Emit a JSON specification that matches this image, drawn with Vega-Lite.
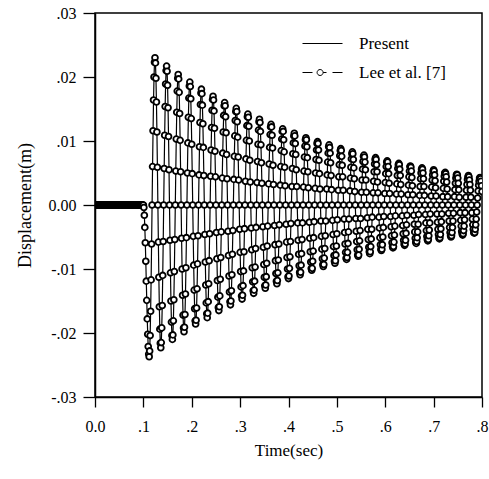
{"$schema":"https://vega.github.io/schema/vega-lite/v6.json","width":387,"height":384,"autosize":{"type":"none"},"padding":{"left":95,"top":13,"right":7,"bottom":82},
"config":{"font":"Liberation Serif","view":{"stroke":"black","strokeWidth":1.5},
"axis":{"grid":false,"labelFlush":false,"domainColor":"black","domainWidth":1.5,"tickColor":"black","tickWidth":1.3,"labelColor":"black","labelFont":"Liberation Serif","labelFontSize":16,"titleFont":"Liberation Serif","titleFontSize":17,"titleFontWeight":"normal","titleColor":"black"}},
"data":{"values":[
{"t":0.000,"y":0},{"t":0.001,"y":0},{"t":0.002,"y":0},{"t":0.003,"y":0},{"t":0.004,"y":0},{"t":0.005,"y":0},{"t":0.006,"y":0},{"t":0.007,"y":0},{"t":0.008,"y":0},{"t":0.009,"y":0},
{"t":0.010,"y":0},{"t":0.011,"y":0},{"t":0.012,"y":0},{"t":0.013,"y":0},{"t":0.014,"y":0},{"t":0.015,"y":0},{"t":0.016,"y":0},{"t":0.017,"y":0},{"t":0.018,"y":0},{"t":0.019,"y":0},
{"t":0.020,"y":0},{"t":0.021,"y":0},{"t":0.022,"y":0},{"t":0.023,"y":0},{"t":0.024,"y":0},{"t":0.025,"y":0},{"t":0.026,"y":0},{"t":0.027,"y":0},{"t":0.028,"y":0},{"t":0.029,"y":0},
{"t":0.030,"y":0},{"t":0.031,"y":0},{"t":0.032,"y":0},{"t":0.033,"y":0},{"t":0.034,"y":0},{"t":0.035,"y":0},{"t":0.036,"y":0},{"t":0.037,"y":0},{"t":0.038,"y":0},{"t":0.039,"y":0},
{"t":0.040,"y":0},{"t":0.041,"y":0},{"t":0.042,"y":0},{"t":0.043,"y":0},{"t":0.044,"y":0},{"t":0.045,"y":0},{"t":0.046,"y":0},{"t":0.047,"y":0},{"t":0.048,"y":0},{"t":0.049,"y":0},
{"t":0.050,"y":0},{"t":0.051,"y":0},{"t":0.052,"y":0},{"t":0.053,"y":0},{"t":0.054,"y":0},{"t":0.055,"y":0},{"t":0.056,"y":0},{"t":0.057,"y":0},{"t":0.058,"y":0},{"t":0.059,"y":0},
{"t":0.060,"y":0},{"t":0.061,"y":0},{"t":0.062,"y":0},{"t":0.063,"y":0},{"t":0.064,"y":0},{"t":0.065,"y":0},{"t":0.066,"y":0},{"t":0.067,"y":0},{"t":0.068,"y":0},{"t":0.069,"y":0},
{"t":0.070,"y":0},{"t":0.071,"y":0},{"t":0.072,"y":0},{"t":0.073,"y":0},{"t":0.074,"y":0},{"t":0.075,"y":0},{"t":0.076,"y":0},{"t":0.077,"y":0},{"t":0.078,"y":0},{"t":0.079,"y":0},
{"t":0.080,"y":0},{"t":0.081,"y":0},{"t":0.082,"y":0},{"t":0.083,"y":0},{"t":0.084,"y":0},{"t":0.085,"y":0},{"t":0.086,"y":0},{"t":0.087,"y":0},{"t":0.088,"y":0},{"t":0.089,"y":0},
{"t":0.090,"y":0},{"t":0.091,"y":0},{"t":0.092,"y":0},{"t":0.093,"y":0},{"t":0.094,"y":0},{"t":0.095,"y":0},{"t":0.096,"y":0},{"t":0.097,"y":0},{"t":0.098,"y":0},{"t":0.099,"y":0},
{"t":0.100,"y":0},{"t":0.101,"y":-0.0004},{"t":0.102,"y":-0.0016},{"t":0.103,"y":-0.0035},{"t":0.104,"y":-0.0059},{"t":0.105,"y":-0.0088},{"t":0.106,"y":-0.0119},{"t":0.107,"y":-0.0149},{"t":0.108,"y":-0.0178},{"t":0.109,"y":-0.0202},{"t":0.110,"y":-0.0221},{"t":0.111,"y":-0.0233},
{"t":0.112,"y":-0.0237},{"t":0.113,"y":-0.0228},{"t":0.114,"y":-0.0204},{"t":0.115,"y":-0.0166},{"t":0.116,"y":-0.0117},{"t":0.117,"y":-0.0061},{"t":0.118,"y":0},{"t":0.119,"y":0.0060},{"t":0.120,"y":0.0116},{"t":0.121,"y":0.0164},{"t":0.122,"y":0.0200},{"t":0.123,"y":0.0223},{"t":0.124,"y":0.0230},{"t":0.125,"y":0.0222},{"t":0.126,"y":0.0198},{"t":0.127,"y":0.0161},{"t":0.128,"y":0.0114},{"t":0.129,"y":0.0059},{"t":0.130,"y":0},{"t":0.131,"y":-0.0058},{"t":0.132,"y":-0.0113},{"t":0.133,"y":-0.0159},{"t":0.134,"y":-0.0194},{"t":0.135,"y":-0.0216},
{"t":0.136,"y":-0.0223},{"t":0.137,"y":-0.0215},{"t":0.138,"y":-0.0192},{"t":0.139,"y":-0.0157},{"t":0.140,"y":-0.0110},{"t":0.141,"y":-0.0057},{"t":0.142,"y":0},{"t":0.143,"y":0.0057},{"t":0.144,"y":0.0109},{"t":0.145,"y":0.0154},{"t":0.146,"y":0.0189},{"t":0.147,"y":0.0210},{"t":0.148,"y":0.0217},{"t":0.149,"y":0.0209},{"t":0.150,"y":0.0187},{"t":0.151,"y":0.0152},{"t":0.152,"y":0.0107},{"t":0.153,"y":0.0055},{"t":0.154,"y":0},{"t":0.155,"y":-0.0055},{"t":0.156,"y":-0.0106},{"t":0.157,"y":-0.0150},{"t":0.158,"y":-0.0183},{"t":0.159,"y":-0.0204},
{"t":0.160,"y":-0.0210},{"t":0.161,"y":-0.0203},{"t":0.162,"y":-0.0181},{"t":0.163,"y":-0.0148},{"t":0.164,"y":-0.0104},{"t":0.165,"y":-0.0054},{"t":0.166,"y":0},{"t":0.167,"y":0.0053},{"t":0.168,"y":0.0103},{"t":0.169,"y":0.0145},{"t":0.170,"y":0.0178},{"t":0.171,"y":0.0198},{"t":0.172,"y":0.0204},{"t":0.173,"y":0.0197},{"t":0.174,"y":0.0176},{"t":0.175,"y":0.0143},{"t":0.176,"y":0.0101},{"t":0.177,"y":0.0052},{"t":0.178,"y":0},{"t":0.179,"y":-0.0052},{"t":0.180,"y":-0.0100},{"t":0.181,"y":-0.0141},{"t":0.182,"y":-0.0172},{"t":0.183,"y":-0.0192},
{"t":0.184,"y":-0.0198},{"t":0.185,"y":-0.0191},{"t":0.186,"y":-0.0171},{"t":0.187,"y":-0.0139},{"t":0.188,"y":-0.0098},{"t":0.189,"y":-0.0051},{"t":0.190,"y":0},{"t":0.191,"y":0.0050},{"t":0.192,"y":0.0097},{"t":0.193,"y":0.0137},{"t":0.194,"y":0.0167},{"t":0.195,"y":0.0186},{"t":0.196,"y":0.0192},{"t":0.197,"y":0.0185},{"t":0.198,"y":0.0166},{"t":0.199,"y":0.0135},{"t":0.200,"y":0.0095},{"t":0.201,"y":0.0049},{"t":0.202,"y":0},{"t":0.203,"y":-0.0049},{"t":0.204,"y":-0.0094},{"t":0.205,"y":-0.0133},{"t":0.206,"y":-0.0162},{"t":0.207,"y":-0.0181},
{"t":0.208,"y":-0.0186},{"t":0.209,"y":-0.0180},{"t":0.210,"y":-0.0161},{"t":0.211,"y":-0.0131},{"t":0.212,"y":-0.0092},{"t":0.213,"y":-0.0048},{"t":0.214,"y":0},{"t":0.215,"y":0.0047},{"t":0.216,"y":0.0091},{"t":0.217,"y":0.0129},{"t":0.218,"y":0.0157},{"t":0.219,"y":0.0175},{"t":0.220,"y":0.0181},{"t":0.221,"y":0.0174},{"t":0.222,"y":0.0156},{"t":0.223,"y":0.0127},{"t":0.224,"y":0.0090},{"t":0.225,"y":0.0046},{"t":0.226,"y":0},{"t":0.227,"y":-0.0046},{"t":0.228,"y":-0.0089},{"t":0.229,"y":-0.0125},{"t":0.230,"y":-0.0153},{"t":0.231,"y":-0.0170},
{"t":0.232,"y":-0.0176},{"t":0.233,"y":-0.0169},{"t":0.234,"y":-0.0151},{"t":0.235,"y":-0.0123},{"t":0.236,"y":-0.0087},{"t":0.237,"y":-0.0045},{"t":0.238,"y":0},{"t":0.239,"y":0.0045},{"t":0.240,"y":0.0086},{"t":0.241,"y":0.0121},{"t":0.242,"y":0.0148},{"t":0.243,"y":0.0165},{"t":0.244,"y":0.0170},{"t":0.245,"y":0.0164},{"t":0.246,"y":0.0147},{"t":0.247,"y":0.0120},{"t":0.248,"y":0.0084},{"t":0.249,"y":0.0044},{"t":0.250,"y":0},{"t":0.251,"y":-0.0043},{"t":0.252,"y":-0.0084},{"t":0.253,"y":-0.0118},{"t":0.254,"y":-0.0144},{"t":0.255,"y":-0.0160},
{"t":0.256,"y":-0.0165},{"t":0.257,"y":-0.0159},{"t":0.258,"y":-0.0142},{"t":0.259,"y":-0.0116},{"t":0.260,"y":-0.0082},{"t":0.261,"y":-0.0042},{"t":0.262,"y":0},{"t":0.263,"y":0.0042},{"t":0.264,"y":0.0081},{"t":0.265,"y":0.0114},{"t":0.266,"y":0.0140},{"t":0.267,"y":0.0155},{"t":0.268,"y":0.0160},{"t":0.269,"y":0.0155},{"t":0.270,"y":0.0138},{"t":0.271,"y":0.0113},{"t":0.272,"y":0.0079},{"t":0.273,"y":0.0041},{"t":0.274,"y":0},{"t":0.275,"y":-0.0041},{"t":0.276,"y":-0.0079},{"t":0.277,"y":-0.0111},{"t":0.278,"y":-0.0136},{"t":0.279,"y":-0.0151},
{"t":0.280,"y":-0.0156},{"t":0.281,"y":-0.0150},{"t":0.282,"y":-0.0134},{"t":0.283,"y":-0.0109},{"t":0.284,"y":-0.0077},{"t":0.285,"y":-0.0040},{"t":0.286,"y":0},{"t":0.287,"y":0.0040},{"t":0.288,"y":0.0076},{"t":0.289,"y":0.0108},{"t":0.290,"y":0.0132},{"t":0.291,"y":0.0146},{"t":0.292,"y":0.0151},{"t":0.293,"y":0.0146},{"t":0.294,"y":0.0130},{"t":0.295,"y":0.0106},{"t":0.296,"y":0.0075},{"t":0.297,"y":0.0039},{"t":0.298,"y":0},{"t":0.299,"y":-0.0038},{"t":0.300,"y":-0.0074},{"t":0.301,"y":-0.0104},{"t":0.302,"y":-0.0128},{"t":0.303,"y":-0.0142},
{"t":0.304,"y":-0.0147},{"t":0.305,"y":-0.0141},{"t":0.306,"y":-0.0126},{"t":0.307,"y":-0.0103},{"t":0.308,"y":-0.0073},{"t":0.309,"y":-0.0037},{"t":0.310,"y":0},{"t":0.311,"y":0.0037},{"t":0.312,"y":0.0072},{"t":0.313,"y":0.0101},{"t":0.314,"y":0.0124},{"t":0.315,"y":0.0138},{"t":0.316,"y":0.0142},{"t":0.317,"y":0.0137},{"t":0.318,"y":0.0123},{"t":0.319,"y":0.0100},{"t":0.320,"y":0.0070},{"t":0.321,"y":0.0036},{"t":0.322,"y":0},{"t":0.323,"y":-0.0036},{"t":0.324,"y":-0.0070},{"t":0.325,"y":-0.0098},{"t":0.326,"y":-0.0120},{"t":0.327,"y":-0.0134},
{"t":0.328,"y":-0.0138},{"t":0.329,"y":-0.0133},{"t":0.330,"y":-0.0119},{"t":0.331,"y":-0.0097},{"t":0.332,"y":-0.0068},{"t":0.333,"y":-0.0035},{"t":0.334,"y":0},{"t":0.335,"y":0.0035},{"t":0.336,"y":0.0068},{"t":0.337,"y":0.0095},{"t":0.338,"y":0.0117},{"t":0.339,"y":0.0130},{"t":0.340,"y":0.0134},{"t":0.341,"y":0.0129},{"t":0.342,"y":0.0115},{"t":0.343,"y":0.0094},{"t":0.344,"y":0.0066},{"t":0.345,"y":0.0034},{"t":0.346,"y":0},{"t":0.347,"y":-0.0034},{"t":0.348,"y":-0.0066},{"t":0.349,"y":-0.0093},{"t":0.350,"y":-0.0113},{"t":0.351,"y":-0.0126},
{"t":0.352,"y":-0.0130},{"t":0.353,"y":-0.0125},{"t":0.354,"y":-0.0112},{"t":0.355,"y":-0.0091},{"t":0.356,"y":-0.0064},{"t":0.357,"y":-0.0033},{"t":0.358,"y":0},{"t":0.359,"y":0.0033},{"t":0.360,"y":0.0064},{"t":0.361,"y":0.0090},{"t":0.362,"y":0.0110},{"t":0.363,"y":0.0122},{"t":0.364,"y":0.0126},{"t":0.365,"y":0.0122},{"t":0.366,"y":0.0109},{"t":0.367,"y":0.0089},{"t":0.368,"y":0.0062},{"t":0.369,"y":0.0032},{"t":0.370,"y":0},{"t":0.371,"y":-0.0032},{"t":0.372,"y":-0.0062},{"t":0.373,"y":-0.0087},{"t":0.374,"y":-0.0107},{"t":0.375,"y":-0.0119},
{"t":0.376,"y":-0.0123},{"t":0.377,"y":-0.0118},{"t":0.378,"y":-0.0106},{"t":0.379,"y":-0.0086},{"t":0.380,"y":-0.0061},{"t":0.381,"y":-0.0031},{"t":0.382,"y":0},{"t":0.383,"y":0.0031},{"t":0.384,"y":0.0060},{"t":0.385,"y":0.0085},{"t":0.386,"y":0.0103},{"t":0.387,"y":0.0115},{"t":0.388,"y":0.0119},{"t":0.389,"y":0.0115},{"t":0.390,"y":0.0102},{"t":0.391,"y":0.0083},{"t":0.392,"y":0.0059},{"t":0.393,"y":0.0030},{"t":0.394,"y":0},{"t":0.395,"y":-0.0030},{"t":0.396,"y":-0.0058},{"t":0.397,"y":-0.0082},{"t":0.398,"y":-0.0100},{"t":0.399,"y":-0.0112},
{"t":0.400,"y":-0.0115},{"t":0.401,"y":-0.0111},{"t":0.402,"y":-0.0099},{"t":0.403,"y":-0.0081},{"t":0.404,"y":-0.0057},{"t":0.405,"y":-0.0029},{"t":0.406,"y":0},{"t":0.407,"y":0.0029},{"t":0.408,"y":0.0057},{"t":0.409,"y":0.0080},{"t":0.410,"y":0.0097},{"t":0.411,"y":0.0108},{"t":0.412,"y":0.0112},{"t":0.413,"y":0.0108},{"t":0.414,"y":0.0096},{"t":0.415,"y":0.0079},{"t":0.416,"y":0.0055},{"t":0.417,"y":0.0029},{"t":0.418,"y":0},{"t":0.419,"y":-0.0028},{"t":0.420,"y":-0.0055},{"t":0.421,"y":-0.0077},{"t":0.422,"y":-0.0095},{"t":0.423,"y":-0.0105},
{"t":0.424,"y":-0.0109},{"t":0.425,"y":-0.0105},{"t":0.426,"y":-0.0094},{"t":0.427,"y":-0.0076},{"t":0.428,"y":-0.0054},{"t":0.429,"y":-0.0028},{"t":0.430,"y":0},{"t":0.431,"y":0.0028},{"t":0.432,"y":0.0053},{"t":0.433,"y":0.0075},{"t":0.434,"y":0.0092},{"t":0.435,"y":0.0102},{"t":0.436,"y":0.0105},{"t":0.437,"y":0.0102},{"t":0.438,"y":0.0091},{"t":0.439,"y":0.0074},{"t":0.440,"y":0.0052},{"t":0.441,"y":0.0027},{"t":0.442,"y":0},{"t":0.443,"y":-0.0027},{"t":0.444,"y":-0.0052},{"t":0.445,"y":-0.0073},{"t":0.446,"y":-0.0089},{"t":0.447,"y":-0.0099},
{"t":0.448,"y":-0.0102},{"t":0.449,"y":-0.0099},{"t":0.450,"y":-0.0088},{"t":0.451,"y":-0.0072},{"t":0.452,"y":-0.0051},{"t":0.453,"y":-0.0026},{"t":0.454,"y":0},{"t":0.455,"y":0.0026},{"t":0.456,"y":0.0050},{"t":0.457,"y":0.0071},{"t":0.458,"y":0.0086},{"t":0.459,"y":0.0096},{"t":0.460,"y":0.0099},{"t":0.461,"y":0.0096},{"t":0.462,"y":0.0086},{"t":0.463,"y":0.0070},{"t":0.464,"y":0.0049},{"t":0.465,"y":0.0025},{"t":0.466,"y":0},{"t":0.467,"y":-0.0025},{"t":0.468,"y":-0.0049},{"t":0.469,"y":-0.0069},{"t":0.470,"y":-0.0084},{"t":0.471,"y":-0.0093},
{"t":0.472,"y":-0.0096},{"t":0.473,"y":-0.0093},{"t":0.474,"y":-0.0083},{"t":0.475,"y":-0.0068},{"t":0.476,"y":-0.0048},{"t":0.477,"y":-0.0025},{"t":0.478,"y":0},{"t":0.479,"y":0.0025},{"t":0.480,"y":0.0047},{"t":0.481,"y":0.0067},{"t":0.482,"y":0.0081},{"t":0.483,"y":0.0091},{"t":0.484,"y":0.0094},{"t":0.485,"y":0.0090},{"t":0.486,"y":0.0081},{"t":0.487,"y":0.0066},{"t":0.488,"y":0.0046},{"t":0.489,"y":0.0024},{"t":0.490,"y":0},{"t":0.491,"y":-0.0024},{"t":0.492,"y":-0.0046},{"t":0.493,"y":-0.0065},{"t":0.494,"y":-0.0079},{"t":0.495,"y":-0.0088},
{"t":0.496,"y":-0.0091},{"t":0.497,"y":-0.0087},{"t":0.498,"y":-0.0078},{"t":0.499,"y":-0.0064},{"t":0.500,"y":-0.0045},{"t":0.501,"y":-0.0023},{"t":0.502,"y":0},{"t":0.503,"y":0.0023},{"t":0.504,"y":0.0044},{"t":0.505,"y":0.0063},{"t":0.506,"y":0.0077},{"t":0.507,"y":0.0085},{"t":0.508,"y":0.0088},{"t":0.509,"y":0.0085},{"t":0.510,"y":0.0076},{"t":0.511,"y":0.0062},{"t":0.512,"y":0.0044},{"t":0.513,"y":0.0023},{"t":0.514,"y":0},{"t":0.515,"y":-0.0022},{"t":0.516,"y":-0.0043},{"t":0.517,"y":-0.0061},{"t":0.518,"y":-0.0074},{"t":0.519,"y":-0.0083},
{"t":0.520,"y":-0.0085},{"t":0.521,"y":-0.0082},{"t":0.522,"y":-0.0074},{"t":0.523,"y":-0.0060},{"t":0.524,"y":-0.0042},{"t":0.525,"y":-0.0022},{"t":0.526,"y":0},{"t":0.527,"y":0.0022},{"t":0.528,"y":0.0042},{"t":0.529,"y":0.0059},{"t":0.530,"y":0.0072},{"t":0.531,"y":0.0080},{"t":0.532,"y":0.0083},{"t":0.533,"y":0.0080},{"t":0.534,"y":0.0071},{"t":0.535,"y":0.0058},{"t":0.536,"y":0.0041},{"t":0.537,"y":0.0021},{"t":0.538,"y":0},{"t":0.539,"y":-0.0021},{"t":0.540,"y":-0.0041},{"t":0.541,"y":-0.0057},{"t":0.542,"y":-0.0070},{"t":0.543,"y":-0.0078},
{"t":0.544,"y":-0.0080},{"t":0.545,"y":-0.0078},{"t":0.546,"y":-0.0069},{"t":0.547,"y":-0.0056},{"t":0.548,"y":-0.0040},{"t":0.549,"y":-0.0021},{"t":0.550,"y":0},{"t":0.551,"y":0.0020},{"t":0.552,"y":0.0039},{"t":0.553,"y":0.0056},{"t":0.554,"y":0.0068},{"t":0.555,"y":0.0076},{"t":0.556,"y":0.0078},{"t":0.557,"y":0.0075},{"t":0.558,"y":0.0067},{"t":0.559,"y":0.0055},{"t":0.560,"y":0.0039},{"t":0.561,"y":0.0020},{"t":0.562,"y":0},{"t":0.563,"y":-0.0020},{"t":0.564,"y":-0.0038},{"t":0.565,"y":-0.0054},{"t":0.566,"y":-0.0066},{"t":0.567,"y":-0.0073},
{"t":0.568,"y":-0.0076},{"t":0.569,"y":-0.0073},{"t":0.570,"y":-0.0065},{"t":0.571,"y":-0.0053},{"t":0.572,"y":-0.0038},{"t":0.573,"y":-0.0019},{"t":0.574,"y":0},{"t":0.575,"y":0.0019},{"t":0.576,"y":0.0037},{"t":0.577,"y":0.0052},{"t":0.578,"y":0.0064},{"t":0.579,"y":0.0071},{"t":0.580,"y":0.0074},{"t":0.581,"y":0.0071},{"t":0.582,"y":0.0063},{"t":0.583,"y":0.0052},{"t":0.584,"y":0.0036},{"t":0.585,"y":0.0019},{"t":0.586,"y":0},{"t":0.587,"y":-0.0019},{"t":0.588,"y":-0.0036},{"t":0.589,"y":-0.0051},{"t":0.590,"y":-0.0062},{"t":0.591,"y":-0.0069},
{"t":0.592,"y":-0.0071},{"t":0.593,"y":-0.0069},{"t":0.594,"y":-0.0062},{"t":0.595,"y":-0.0050},{"t":0.596,"y":-0.0035},{"t":0.597,"y":-0.0018},{"t":0.598,"y":0},{"t":0.599,"y":0.0018},{"t":0.600,"y":0.0035},{"t":0.601,"y":0.0049},{"t":0.602,"y":0.0060},{"t":0.603,"y":0.0067},{"t":0.604,"y":0.0069},{"t":0.605,"y":0.0067},{"t":0.606,"y":0.0060},{"t":0.607,"y":0.0049},{"t":0.608,"y":0.0034},{"t":0.609,"y":0.0018},{"t":0.610,"y":0},{"t":0.611,"y":-0.0018},{"t":0.612,"y":-0.0034},{"t":0.613,"y":-0.0048},{"t":0.614,"y":-0.0059},{"t":0.615,"y":-0.0065},
{"t":0.616,"y":-0.0067},{"t":0.617,"y":-0.0065},{"t":0.618,"y":-0.0058},{"t":0.619,"y":-0.0047},{"t":0.620,"y":-0.0033},{"t":0.621,"y":-0.0017},{"t":0.622,"y":0},{"t":0.623,"y":0.0017},{"t":0.624,"y":0.0033},{"t":0.625,"y":0.0046},{"t":0.626,"y":0.0057},{"t":0.627,"y":0.0063},{"t":0.628,"y":0.0065},{"t":0.629,"y":0.0063},{"t":0.630,"y":0.0056},{"t":0.631,"y":0.0046},{"t":0.632,"y":0.0032},{"t":0.633,"y":0.0017},{"t":0.634,"y":0},{"t":0.635,"y":-0.0017},{"t":0.636,"y":-0.0032},{"t":0.637,"y":-0.0045},{"t":0.638,"y":-0.0055},{"t":0.639,"y":-0.0061},
{"t":0.640,"y":-0.0063},{"t":0.641,"y":-0.0061},{"t":0.642,"y":-0.0055},{"t":0.643,"y":-0.0044},{"t":0.644,"y":-0.0031},{"t":0.645,"y":-0.0016},{"t":0.646,"y":0},{"t":0.647,"y":0.0016},{"t":0.648,"y":0.0031},{"t":0.649,"y":0.0044},{"t":0.650,"y":0.0053},{"t":0.651,"y":0.0060},{"t":0.652,"y":0.0061},{"t":0.653,"y":0.0059},{"t":0.654,"y":0.0053},{"t":0.655,"y":0.0043},{"t":0.656,"y":0.0030},{"t":0.657,"y":0.0016},{"t":0.658,"y":0},{"t":0.659,"y":-0.0016},{"t":0.660,"y":-0.0030},{"t":0.661,"y":-0.0042},{"t":0.662,"y":-0.0052},{"t":0.663,"y":-0.0058},
{"t":0.664,"y":-0.0060},{"t":0.665,"y":-0.0057},{"t":0.666,"y":-0.0051},{"t":0.667,"y":-0.0042},{"t":0.668,"y":-0.0030},{"t":0.669,"y":-0.0015},{"t":0.670,"y":0},{"t":0.671,"y":0.0015},{"t":0.672,"y":0.0029},{"t":0.673,"y":0.0041},{"t":0.674,"y":0.0050},{"t":0.675,"y":0.0056},{"t":0.676,"y":0.0058},{"t":0.677,"y":0.0056},{"t":0.678,"y":0.0050},{"t":0.679,"y":0.0041},{"t":0.680,"y":0.0029},{"t":0.681,"y":0.0015},{"t":0.682,"y":0},{"t":0.683,"y":-0.0015},{"t":0.684,"y":-0.0028},{"t":0.685,"y":-0.0040},{"t":0.686,"y":-0.0049},{"t":0.687,"y":-0.0054},
{"t":0.688,"y":-0.0056},{"t":0.689,"y":-0.0054},{"t":0.690,"y":-0.0048},{"t":0.691,"y":-0.0039},{"t":0.692,"y":-0.0028},{"t":0.693,"y":-0.0014},{"t":0.694,"y":0},{"t":0.695,"y":0.0014},{"t":0.696,"y":0.0028},{"t":0.697,"y":0.0039},{"t":0.698,"y":0.0047},{"t":0.699,"y":0.0053},{"t":0.700,"y":0.0055},{"t":0.701,"y":0.0053},{"t":0.702,"y":0.0047},{"t":0.703,"y":0.0038},{"t":0.704,"y":0.0027},{"t":0.705,"y":0.0014},{"t":0.706,"y":0},{"t":0.707,"y":-0.0014},{"t":0.708,"y":-0.0027},{"t":0.709,"y":-0.0038},{"t":0.710,"y":-0.0046},{"t":0.711,"y":-0.0051},
{"t":0.712,"y":-0.0053},{"t":0.713,"y":-0.0051},{"t":0.714,"y":-0.0046},{"t":0.715,"y":-0.0037},{"t":0.716,"y":-0.0026},{"t":0.717,"y":-0.0014},{"t":0.718,"y":0},{"t":0.719,"y":0.0013},{"t":0.720,"y":0.0026},{"t":0.721,"y":0.0037},{"t":0.722,"y":0.0045},{"t":0.723,"y":0.0050},{"t":0.724,"y":0.0051},{"t":0.725,"y":0.0049},{"t":0.726,"y":0.0044},{"t":0.727,"y":0.0036},{"t":0.728,"y":0.0025},{"t":0.729,"y":0.0013},{"t":0.730,"y":0},{"t":0.731,"y":-0.0013},{"t":0.732,"y":-0.0025},{"t":0.733,"y":-0.0035},{"t":0.734,"y":-0.0043},{"t":0.735,"y":-0.0048},
{"t":0.736,"y":-0.0050},{"t":0.737,"y":-0.0048},{"t":0.738,"y":-0.0043},{"t":0.739,"y":-0.0035},{"t":0.740,"y":-0.0025},{"t":0.741,"y":-0.0013},{"t":0.742,"y":0},{"t":0.743,"y":0.0013},{"t":0.744,"y":0.0024},{"t":0.745,"y":0.0034},{"t":0.746,"y":0.0042},{"t":0.747,"y":0.0047},{"t":0.748,"y":0.0048},{"t":0.749,"y":0.0047},{"t":0.750,"y":0.0042},{"t":0.751,"y":0.0034},{"t":0.752,"y":0.0024},{"t":0.753,"y":0.0012},{"t":0.754,"y":0},{"t":0.755,"y":-0.0012},{"t":0.756,"y":-0.0024},{"t":0.757,"y":-0.0033},{"t":0.758,"y":-0.0041},{"t":0.759,"y":-0.0045},
{"t":0.760,"y":-0.0047},{"t":0.761,"y":-0.0045},{"t":0.762,"y":-0.0040},{"t":0.763,"y":-0.0033},{"t":0.764,"y":-0.0023},{"t":0.765,"y":-0.0012},{"t":0.766,"y":0},{"t":0.767,"y":0.0012},{"t":0.768,"y":0.0023},{"t":0.769,"y":0.0032},{"t":0.770,"y":0.0040},{"t":0.771,"y":0.0044},{"t":0.772,"y":0.0046},{"t":0.773,"y":0.0044},{"t":0.774,"y":0.0039},{"t":0.775,"y":0.0032},{"t":0.776,"y":0.0023},{"t":0.777,"y":0.0012},{"t":0.778,"y":0},{"t":0.779,"y":-0.0012},{"t":0.780,"y":-0.0022},{"t":0.781,"y":-0.0031},{"t":0.782,"y":-0.0038},{"t":0.783,"y":-0.0043},
{"t":0.784,"y":-0.0044},{"t":0.785,"y":-0.0043},{"t":0.786,"y":-0.0038},{"t":0.787,"y":-0.0031},{"t":0.788,"y":-0.0022},{"t":0.789,"y":-0.0011},{"t":0.790,"y":0},{"t":0.791,"y":0.0011},{"t":0.792,"y":0.0022},{"t":0.793,"y":0.0031},{"t":0.794,"y":0.0037},{"t":0.795,"y":0.0042},{"t":0.796,"y":0.0043},{"t":0.797,"y":0.0041},{"t":0.798,"y":0.0037},{"t":0.799,"y":0.0030},{"t":0.800,"y":0.0021}
]},
"encoding":{
"x":{"field":"t","type":"quantitative","scale":{"domain":[0,0.8],"nice":false},"axis":{"values":[0,0.1,0.2,0.3,0.4,0.5,0.6,0.7,0.8],"labelExpr":"datum.value == 0 ? '0.0' : replace(format(datum.value, '.1f'), '0.', '.')","tickSize":10,"labelPadding":11,"title":"Time(sec)","titlePadding":8}},
"y":{"field":"y","type":"quantitative","scale":{"domain":[-0.03,0.03],"nice":false,"zero":false},"axis":{"values":[-0.03,-0.02,-0.01,0,0.01,0.02,0.03],"labelExpr":"datum.value == 0 ? '0.00' : (datum.value < 0 ? '-' : '') + replace(format(abs(datum.value), '.2f'), '0.', '.')","tickSize":12,"labelPadding":7,"title":"Displacement(m)","titlePadding":14,"titleFontSize":18}}
},
"layer":[
{"mark":{"type":"line","strokeWidth":1.2,"clip":true},
"encoding":{"stroke":{"datum":"Present","type":"nominal","scale":{"domain":["Present","Lee et al. [7]"],"range":["black","black"]},
"legend":{"title":null,"orient":"none","legendX":207,"legendY":10,"padding":0,"symbolSize":1600,"symbolStrokeWidth":1,"symbolFillColor":"white","labelFont":"Liberation Serif","labelFontSize":17,"labelColor":"black","labelOffset":16,"rowPadding":-11,
"encode":{"symbols":{"update":{"shape":{"signal":"datum.value === 'Present' ? 'M-1,0H1' : 'M-1,0H-0.5M-0.27,0A0.15,0.15 0 1 1 0.03,0A0.15,0.15 0 1 1 -0.27,0M0.03,0H0.2M0.5,0H1'"},"fill":{"value":"white"},"stroke":{"value":"black"},"strokeDash":{"value":[]},"strokeWidth":{"value":1},"opacity":{"value":1}}}}}}}},
{"mark":{"type":"point","shape":"circle","filled":false,"fill":"white","size":34,"strokeWidth":1.8,"opacity":1,"clip":true},
"encoding":{"stroke":{"datum":"Lee et al. [7]","type":"nominal"}}}
]}
